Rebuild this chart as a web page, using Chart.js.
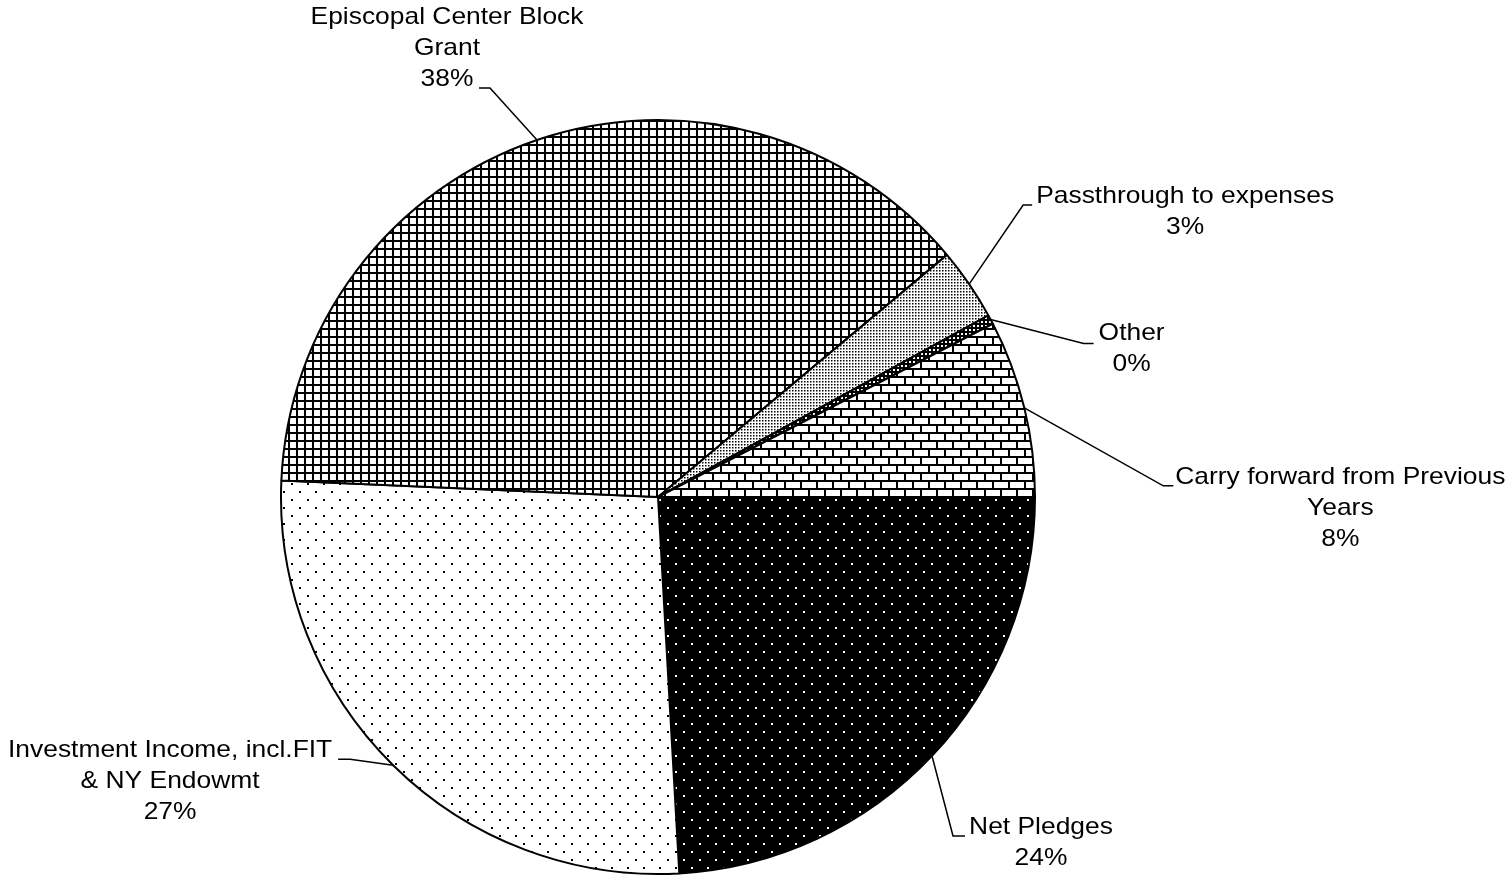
<!DOCTYPE html>
<html>
<head>
<meta charset="utf-8">
<script src="https://cdn.jsdelivr.net/npm/chart.js@4/dist/chart.umd.min.js"></script>
<style>
  html, body { margin: 0; padding: 0; background: #fff; }
  canvas { display: block; }
</style>
</head>
<body>
<canvas id="pieChart" width="1509" height="878"></canvas>
<script>
// slices clockwise from 3 o'clock
const categories = ['Net Pledges', 'Investment Income, incl.FIT & NY Endowmt', 'Episcopal Center Block Grant',
  'Passthrough to expenses', 'Other', 'Carry forward from Previous Years'];
const shares = [24.1, 26.6, 38.2, 3.1, 0.4, 7.6];
const labelLines = [
  ['Net Pledges'],
  ['Investment Income, incl.FIT', '& NY Endowmt'],
  ['Episcopal Center Block', 'Grant'],
  ['Passthrough to expenses'],
  ['Other'],
  ['Carry forward from Previous', 'Years']
];

// label placement relative to the slice's outer edge at mid angle
const labelPlace = [
  { elbow: [21, 80], tail: 12, text: [109, 87] },
  { elbow: [-43, -6], tail: -12, text: [-223, 16] },
  { elbow: [-47, -52], tail: -11, text: [-90, -92] },
  { elbow: [54, -79], tail: 9, text: [216, -72] },
  { elbow: [93, 24], tail: 10, text: [141, 29] },
  { elbow: [139, 78], tail: 10, text: [316, 101] }
];

function tile(w, h, draw) {
  const c = document.createElement('canvas');
  c.width = w; c.height = h;
  const g = c.getContext('2d');
  draw(g, w, h);
  return document.getElementById('pieChart').getContext('2d').createPattern(c, 'repeat');
}

const patterns = [
  // white dots on black
  tile(16, 16, (g, w, h) => {
    g.fillStyle = '#000'; g.fillRect(0, 0, w, h);
    g.fillStyle = '#fff'; g.fillRect(3, 3, 2, 2); g.fillRect(11, 11, 2, 2);
  }),
  // black dots on white
  tile(16, 16, (g, w, h) => {
    g.fillStyle = '#fff'; g.fillRect(0, 0, w, h);
    g.fillStyle = '#000'; g.fillRect(3, 3, 2, 2); g.fillRect(11, 11, 2, 2);
  }),
  // small grid
  tile(8, 8, (g, w, h) => {
    g.fillStyle = '#fff'; g.fillRect(0, 0, w, h);
    g.fillStyle = '#000'; g.fillRect(0, 0, w, 2); g.fillRect(0, 0, 2, h);
  }),
  // dense dots
  tile(3, 3, (g, w, h) => {
    g.fillStyle = '#fff'; g.fillRect(0, 0, w, h);
    g.fillStyle = '#000'; g.fillRect(0, 0, 1.5, 1.5);
  }),
  // dark, white specks
  tile(4, 4, (g, w, h) => {
    g.fillStyle = '#000'; g.fillRect(0, 0, w, h);
    g.fillStyle = '#fff'; g.fillRect(1, 1, 2, 2);
  }),
  // horizontal brick
  tile(16, 16, (g, w, h) => {
    g.fillStyle = '#fff'; g.fillRect(0, 0, w, h);
    g.fillStyle = '#000';
    g.fillRect(0, 0, w, 2); g.fillRect(0, 8, w, 2);
    g.fillRect(0, 0, 2, 8); g.fillRect(8, 8, 2, 8);
  })
];

const calloutPlugin = {
  id: 'callouts',
  afterDraw(chart) {
    const ctx = chart.ctx;
    const meta = chart.getDatasetMeta(0);
    const total = shares.reduce((a, b) => a + b, 0);
    ctx.save();
    ctx.strokeStyle = '#000';
    ctx.lineWidth = 1.5;
    ctx.fillStyle = '#000';
    ctx.font = '24px "Liberation Sans", Arial, sans-serif';
    ctx.textAlign = 'center';
    ctx.textBaseline = 'middle';
    meta.data.forEach((arc, i) => {
      const p = arc.getProps(['x', 'y', 'startAngle', 'endAngle', 'outerRadius'], true);
      const mid = (p.startAngle + p.endAngle) / 2;
      const ex = p.x + Math.cos(mid) * p.outerRadius;
      const ey = p.y + Math.sin(mid) * p.outerRadius;
      const pl = labelPlace[i];
      const bx = ex + pl.elbow[0], by = ey + pl.elbow[1];
      ctx.beginPath();
      ctx.moveTo(ex, ey);
      ctx.lineTo(bx, by);
      ctx.lineTo(bx + pl.tail, by);
      ctx.stroke();

      const lines = labelLines[i].concat([Math.round(shares[i] / total * 100) + '%']);
      const lh = 31;
      const cx = ex + pl.text[0];
      const cy = ey + pl.text[1] - (lines.length - 1) * lh / 2;
      lines.forEach((t, k) => {
        ctx.save();
        ctx.translate(cx, cy + k * lh);
        ctx.scale(1.1, 1);
        ctx.fillText(t, 0, 0);
        ctx.restore();
      });
    });
    ctx.restore();
  }
};

new Chart(document.getElementById('pieChart'), {
  type: 'pie',
  data: {
    labels: categories,
    datasets: [{
      data: shares,
      backgroundColor: patterns,
      borderColor: '#000',
      borderWidth: 2
    }]
  },
  options: {
    responsive: false,
    animation: false,
    rotation: 90,
    layout: { padding: { left: 280, right: 473, top: 119, bottom: 3 } },
    plugins: { legend: { display: false }, tooltip: { enabled: false } }
  },
  plugins: [calloutPlugin]
});
</script>
</body>
</html>
